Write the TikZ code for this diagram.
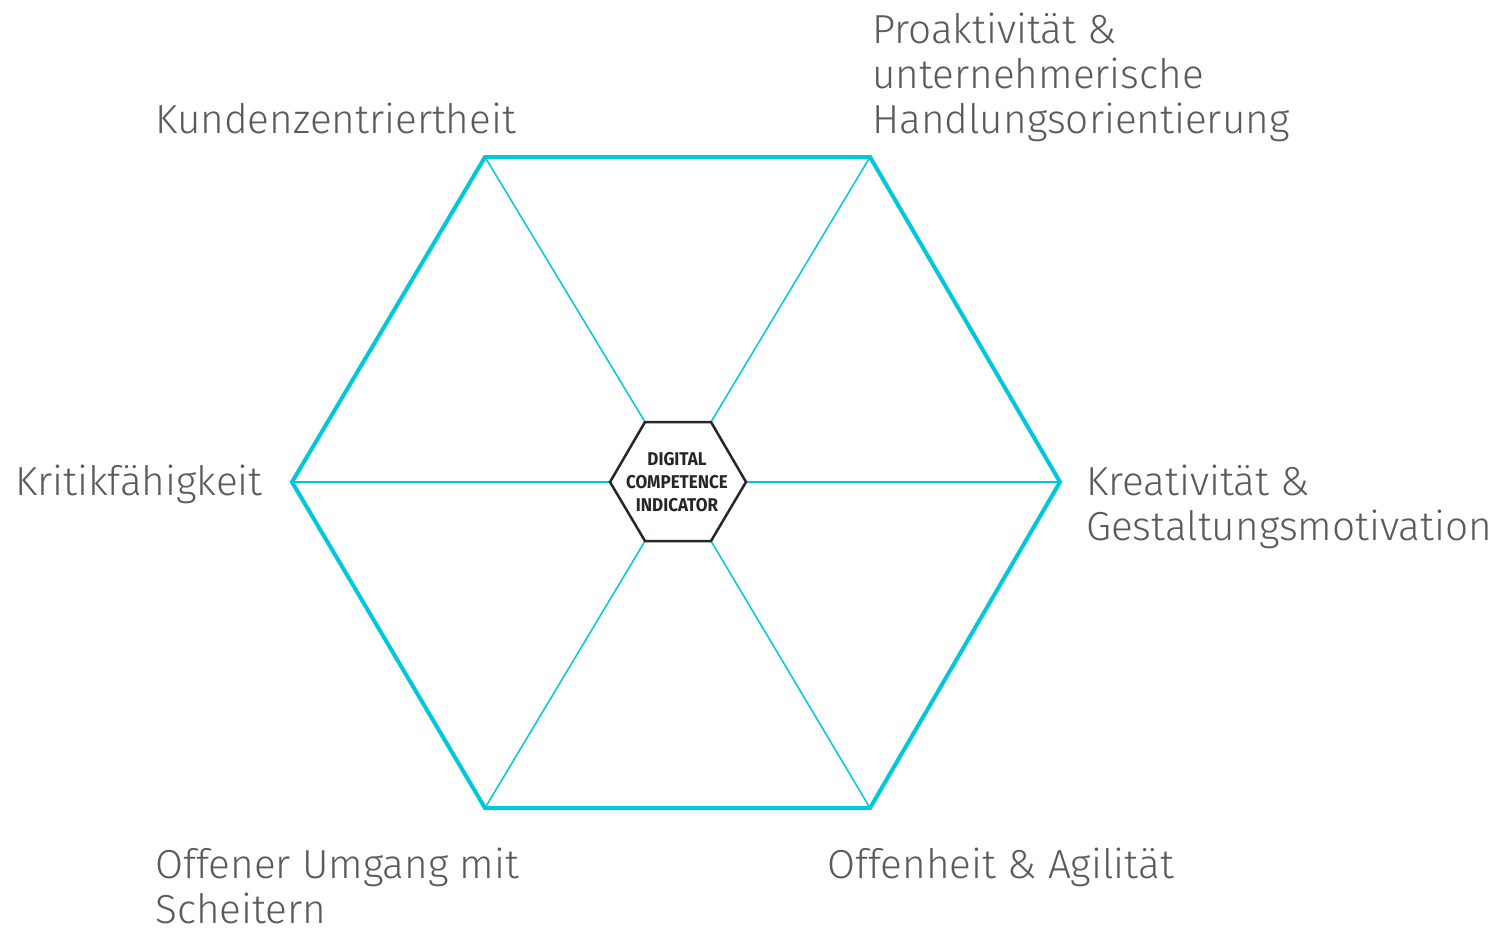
\documentclass[tikz,border=0pt]{standalone}
\usepackage{fontspec}
\setmainfont{Fira Sans Light}
\newfontfamily\badgefont{Fira Sans}[FakeStretch=0.92]
\begin{document}
\begin{tikzpicture}[x=1pt,y=-1pt,
  label/.style={anchor=base west,inner sep=0pt,align=left,text=labelgray,
    font=\fontsize{40.5}{45}\selectfont},
  rim/.style={draw=hexcyan,line width=4pt,line join=miter},
  spoke/.style={draw=hexcyan,line width=1.5pt},
  core/.style={draw=black!85,line width=2.5pt,line join=miter}]
\definecolor{hexcyan}{HTML}{00C8DA}
\definecolor{labelgray}{HTML}{5A5A5A}
\useasboundingbox (0,0) rectangle (1510,927);
% outer hexagon corners
\coordinate (o1) at (1060,482);
\coordinate (o2) at (870,157);
\coordinate (o3) at (485,157);
\coordinate (o4) at (292,482);
\coordinate (o5) at (485,808);
\coordinate (o6) at (870,808);
% inner hexagon corners
\coordinate (i1) at (746,482);
\coordinate (i2) at (711,422);
\coordinate (i3) at (645,422);
\coordinate (i4) at (610,482);
\coordinate (i5) at (645,541);
\coordinate (i6) at (711,541);
% spokes
\foreach \k in {1,...,6} \draw[spoke] (i\k) -- (o\k);
% rim
\draw[rim] (o1) -- (o2) -- (o3) -- (o4) -- (o5) -- (o6) -- cycle;
% central badge
\draw[core,fill=white] (i1) -- (i2) -- (i3) -- (i4) -- (i5) -- (i6) -- cycle;
\node[align=center,inner sep=0pt,font=\badgefont\bfseries\fontsize{18.5}{23}\selectfont,text=black!85]
  (dci) at (677,482) {DIGITAL\\COMPETENCE\\INDICATOR};
% labels (anchored at the baseline of their last line)
\node[label] (kunden) at (155,133) {Kundenzentriertheit};
\node[label] (proakt) at (872,133) {Proaktivität \&\\unternehmerische\\Handlungsorientierung};
\node[label] (kritik) at (15,495) {Kritikfähigkeit};
\node[label] (kreativ) at (1086,540) {Kreativität \&\\Gestaltungsmotivation};
\node[label] (umgang) at (155,923) {Offener Umgang mit\\Scheitern};
\node[label] (offen) at (827,878) {Offenheit \& Agilität};
\end{tikzpicture}
\end{document}
